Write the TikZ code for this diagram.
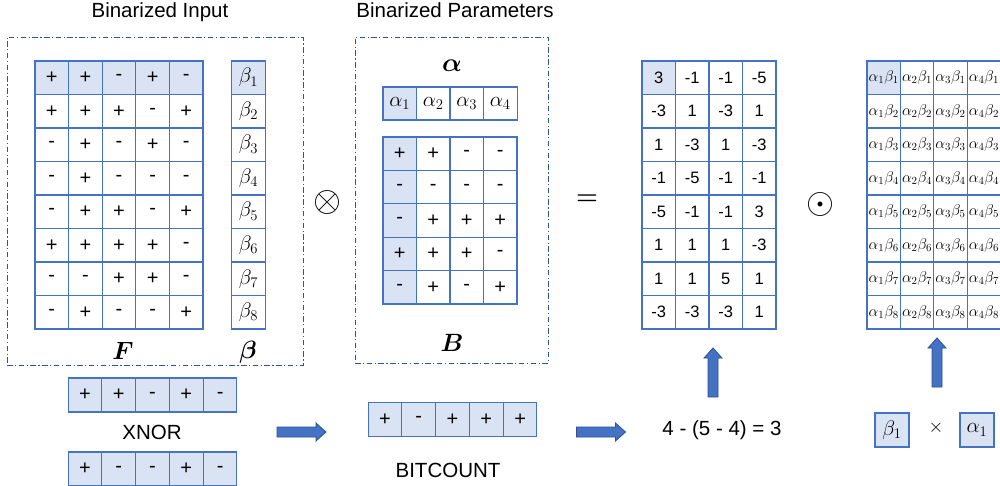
\RequirePackage{fix-cm}
\documentclass[tikz,border=0pt]{standalone}
\usepackage{amsmath}
\usepackage{bm}
\usepackage{fontspec}
\setmainfont{Liberation Sans}
\definecolor{cellblue}{HTML}{4472C4}
\definecolor{fillblue}{HTML}{DAE3F3}
\definecolor{arrowedge}{HTML}{2F528F}
\definecolor{dashblue}{HTML}{2F5597}
\tikzset{
  cell/.style={draw=cellblue, line width=1.1pt, minimum width=33.6pt, minimum height=33.5pt, inner sep=0pt, anchor=center},
  pm/.style={font=\fontsize{20}{20}\selectfont},
  num/.style={font=\fontsize{16.5}{16.5}\selectfont},
  sym/.style={font=\fontsize{21}{21}\selectfont},
  prod/.style={font=\fontsize{15.5}{15.5}\selectfont},
  title/.style={font=\fontsize{20.5}{20.5}\selectfont, anchor=base},
  lbl/.style={font=\fontsize{20.5}{20.5}\selectfont},
  big/.style={font=\fontsize{25}{25}\selectfont},
  dashbox/.style={draw=dashblue, line width=0.9pt, dash pattern=on 5.5pt off 2.5pt on 1.2pt off 2.5pt, inner sep=0pt},
  arrowfill/.style={fill=cellblue, draw=arrowedge, line width=0.8pt},
  blockarrow/.pic={\filldraw[arrowfill] (-24.5,-5) -- (14.5,-5) -- (14.5,-9) -- (24.5,0) -- (14.5,9) -- (14.5,5) -- (-24.5,5) -- cycle;}
}
\begin{document}
\begin{tikzpicture}[x=1pt,y=-1pt]
\useasboundingbox[fill=white] (0,0) rectangle (1000,486);

% titles
\node[title] (t1) at (160,17.5) {Binarized Input};
\node[title] (t2) at (455,17.5) {Binarized Parameters};

% dashed boxes
\node[dashbox, minimum width=296pt, minimum height=328pt] (inbox) at (155,201) {};
\node[dashbox, minimum width=193pt, minimum height=326pt] (parbox) at (451.5,200) {};

% F matrix
\foreach \row [count=\r] in {{+,+,-,+,-},{+,+,+,-,+},{-,+,-,+,-},{-,+,-,-,-},{-,+,+,-,+},{+,+,+,+,-},{-,-,+,+,-},{-,+,-,-,+}} {
  \foreach \v [count=\c] in \row {
    \ifnum\r=1 \def\fc{fillblue}\else\def\fc{white}\fi
    \node[cell, pm, fill=\fc] (F-\r-\c) at ({35+(\c-0.5)*33.6},{61+(\r-0.5)*33.5}) {\v};
  }
}
% beta column
\foreach \r in {1,...,8} {
  \ifnum\r=1 \def\fc{fillblue}\else\def\fc{white}\fi
  \node[cell, sym, fill=\fc] (b-\r) at (248.5,{61+(\r-0.5)*33.5}) {$\beta_{\r}$};
}
\node[big] (Flabel) at (123,351) {$\bm{F}$};
\node[big] (blabel) at (248,352) {$\bm{\beta}$};

% alpha row
\node[big, font=\fontsize{26}{26}\selectfont] (alabel) at (452,66) {$\bm{\alpha}$};
\foreach \c in {1,...,4} {
  \ifnum\c=1 \def\fc{fillblue}\else\def\fc{white}\fi
  \node[cell, sym, fill=\fc, minimum height=33pt] (a-\c) at ({383+(\c-0.5)*33.5},103.5) {$\alpha_{\c}$};
}
% B matrix
\foreach \row [count=\r] in {{+,+,-,-},{-,-,-,-},{-,+,+,+},{+,+,+,-},{-,+,-,+}} {
  \foreach \v [count=\c] in \row {
    \ifnum\c=1 \def\fc{fillblue}\else\def\fc{white}\fi
    \node[cell, pm, fill=\fc, minimum width=33.5pt, minimum height=33.4pt] (B-\r-\c) at ({383+(\c-0.5)*33.5},{137+(\r-0.5)*33.4}) {\v};
  }
}
\node[big] (Blabel) at (452,343) {$\bm{B}$};

% operators
\node[font=\fontsize{36}{36}\selectfont, inner sep=0pt] (otimes) at (327,203) {$\otimes$};
\node[font=\fontsize{25}{25}\selectfont, inner sep=0pt] (eq) at (587,200) {$\bm{=}$};
\node[font=\fontsize{36}{36}\selectfont, inner sep=0pt] (odot) at (820,205) {$\odot$};

% result matrix
\foreach \row [count=\r] in {{3,-1,-1,-5},{-3,1,-3,1},{1,-3,1,-3},{-1,-5,-1,-1},{-5,-1,-1,3},{1,1,1,-3},{1,1,5,1},{-3,-3,-3,1}} {
  \foreach \v [count=\c] in \row {
    \ifnum\r=1 \ifnum\c=1 \def\fc{fillblue}\else\def\fc{white}\fi\else\def\fc{white}\fi
    \node[cell, num, fill=\fc, minimum width=33.5pt] (R-\r-\c) at ({642+(\c-0.5)*33.5},{61+(\r-0.5)*33.5}) {\v};
  }
}
% alpha-beta matrix
\foreach \r in {1,...,8} {
  \foreach \c in {1,...,4} {
    \ifnum\r=1 \ifnum\c=1 \def\fc{fillblue}\else\def\fc{white}\fi\else\def\fc{white}\fi
    \node[cell, prod, fill=\fc, minimum width=33.4pt] (P-\r-\c) at ({867+(\c-0.5)*33.4},{61+(\r-0.5)*33.5}) {$\alpha_{\c}\beta_{\r}$};
  }
}

% bottom: XNOR inputs
\foreach \v [count=\c] in {+,+,-,+,-} {
  \node[cell, pm, fill=fillblue, minimum height=34pt] (x1-\c) at ({68+(\c-0.5)*33.8},395) {\v};
}
\node[lbl] (xnor) at (152,432) {XNOR};
\foreach \v [count=\c] in {+,-,-,+,-} {
  \node[cell, pm, fill=fillblue, minimum height=34pt] (x2-\c) at ({68+(\c-0.5)*33.8},469) {\v};
}
\pic at (301.5,432) {blockarrow};
% bitcount
\foreach \v [count=\c] in {+,-,+,+,+} {
  \node[cell, pm, fill=fillblue] (bc-\c) at ({368+(\c-0.5)*33.8},419.5) {\v};
}
\node[lbl] (bitcount) at (448,470) {BITCOUNT};
\pic at (601,432) {blockarrow};
\node[lbl] (eqn) at (722,430) {4 - (5 - 4) = 3};
\pic[rotate=90] at (713,372.5) {blockarrow};

% beta1 x alpha1
\node[cell, sym, fill=fillblue, minimum width=34pt, minimum height=34pt] (bb1) at (892,430) {$\beta_1$};
\node[font=\fontsize{19}{19}\selectfont] (times) at (936,428) {$\times$};
\node[cell, sym, fill=fillblue, minimum width=34pt, minimum height=34pt] (aa1) at (977,430) {$\alpha_1$};
\pic[rotate=90] at (937,362.5) {blockarrow};
\end{tikzpicture}
\end{document}
